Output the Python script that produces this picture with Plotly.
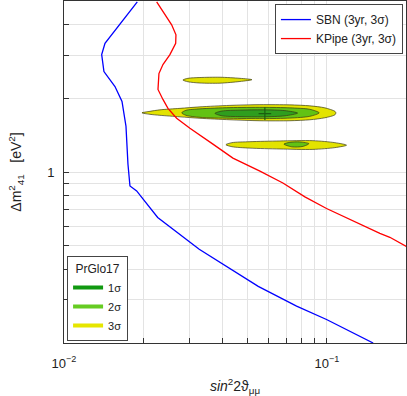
import plotly.graph_objects as go

# SBN (3yr, 3 sigma) sensitivity curve
sbn_x = [0.0190, 0.01432, 0.01391, 0.01419, 0.01563, 0.01662, 0.01721, 0.01751, 0.01782,
         0.0189, 0.0200, 0.02272, 0.03269, 0.05482, 0.0767, 0.0997, 0.150]
sbn_y = [4.96, 3.355, 3.017, 2.574, 2.236, 1.944, 1.538, 1.078, 0.877,
         0.837, 0.774, 0.652, 0.483, 0.341, 0.283, 0.2495, 0.200]

# KPipe (3yr, 3 sigma) sensitivity curve
kp_x = [0.02252, 0.02379, 0.02568, 0.02666, 0.02660, 0.02529, 0.02379, 0.02297, 0.02278,
        0.02379, 0.02486, 0.02682, 0.03013, 0.03686, 0.04391, 0.05563, 0.06802, 0.08248,
        0.0997, 0.1591, 0.1736, 0.201]
kp_y = [4.96, 4.513, 3.996, 3.639, 3.355, 3.017, 2.748, 2.526, 2.175,
        1.980, 1.820, 1.658, 1.509, 1.300, 1.140, 1.009, 0.902, 0.791,
        0.709, 0.561, 0.541, 0.4957]

# PrGlo17 allowed regions (contour outlines)
top3_x = [0.02834, 0.02961, 0.03289, 0.0392, 0.0467, 0.05187, 0.0467, 0.0392, 0.03289, 0.02961, 0.02834]
top3_y = [2.377, 2.415, 2.433, 2.440, 2.415, 2.384, 2.344, 2.307, 2.311, 2.338, 2.377]

main3_x = [0.01980, 0.02123, 0.02317, 0.02761, 0.03289, 0.04278, 0.05563, 0.07233, 0.08617, 0.09826,
           0.1073, 0.1082, 0.1073, 0.09826, 0.08617, 0.07233, 0.05563, 0.04278, 0.03289, 0.02761,
           0.02317, 0.02123, 0.01980]
main3_y = [1.745, 1.770, 1.795, 1.820, 1.846, 1.872, 1.885, 1.881, 1.864, 1.829,
           1.770, 1.745, 1.713, 1.666, 1.635, 1.620, 1.620, 1.635, 1.658, 1.681,
           1.705, 1.721, 1.745]

main2_x = [0.02803, 0.02910, 0.03289, 0.04278, 0.05709, 0.07233, 0.08617, 0.09348, 0.08617, 0.07233,
           0.05709, 0.04278, 0.03289, 0.02910, 0.02803]
main2_y = [1.745, 1.787, 1.812, 1.833, 1.838, 1.829, 1.804, 1.745, 1.689, 1.661,
           1.653, 1.658, 1.673, 1.705, 1.745]

main1_x = [0.03752, 0.03989, 0.04670, 0.05709, 0.06923, 0.07737, 0.06923, 0.05709, 0.04670, 0.03989, 0.03752]
main1_y = [1.737, 1.775, 1.790, 1.795, 1.782, 1.741, 1.697, 1.681, 1.684, 1.697, 1.737]

low3_x = [0.04130, 0.04352, 0.05097, 0.06627, 0.08847, 0.1073, 0.1188, 0.1073, 0.08847, 0.06627,
          0.05097, 0.04352, 0.04130]
low3_y = [1.293, 1.318, 1.330, 1.339, 1.343, 1.318, 1.287, 1.258, 1.237, 1.242,
          1.252, 1.269, 1.293]

low2_x = [0.06863, 0.07233, 0.07894, 0.08542, 0.08104, 0.07361, 0.06863]
low2_y = [1.300, 1.322, 1.327, 1.306, 1.272, 1.267, 1.300]

best_x = [0.0581]
best_y = [1.733]

x_major = [0.01, 0.1]
x_major_text = ["10<sup>\u22122</sup>", "10<sup>\u22121</sup>"]
x_minor = [0.02, 0.03, 0.04, 0.05, 0.06, 0.07, 0.08, 0.09, 0.2]
y_major = [1]
y_major_text = ["1"]
y_minor = [0.3, 0.4, 0.5, 0.6, 0.7, 0.8, 0.9, 2, 3, 4]

C1 = "#2f9e1e"
C2 = "#62c214"
C3 = "#e3e300"
EDGE = "rgba(50,50,20,0.85)"

fig = go.Figure()

def region(x, y, color):
    fig.add_trace(go.Scatter(
        x=x, y=y, mode="lines", fill="toself", fillcolor=color,
        line=dict(color=EDGE, width=0.8, shape="spline", smoothing=0.8),
        showlegend=False, hoverinfo="skip"))

region(top3_x, top3_y, C3)
region(main3_x, main3_y, C3)
region(main2_x, main2_y, C2)
region(main1_x, main1_y, C1)
region(low3_x, low3_y, C3)
region(low2_x, low2_y, C2)

fig.add_trace(go.Scatter(x=best_x, y=best_y, mode="markers",
                         marker=dict(symbol="cross-thin", size=9,
                                     line=dict(color="#1a5e10", width=1.2)),
                         showlegend=False, hoverinfo="skip"))

fig.add_trace(go.Scatter(x=sbn_x, y=sbn_y, mode="lines", name="SBN (3yr, 3\u03c3)",
                         line=dict(color="#0000ff", width=1.3), legend="legend"))
fig.add_trace(go.Scatter(x=kp_x, y=kp_y, mode="lines", name="KPipe (3yr, 3\u03c3)",
                         line=dict(color="#ff0000", width=1.3), legend="legend"))

for lab, col in [("1\u03c3", "#119911"), ("2\u03c3", "#66cc22"), ("3\u03c3", "#e6e600")]:
    fig.add_trace(go.Scatter(x=[None], y=[None], mode="lines", name=lab,
                             line=dict(color=col, width=4), legend="legend2"))

axis_common = dict(type="log", showline=True, mirror=True, linecolor="#333333", linewidth=1,
                   ticks="inside", ticklen=5, tickcolor="#333333",
                   showgrid=True, gridcolor="#e3e3e3", gridwidth=1, zeroline=False,
                   tickfont=dict(size=13, color="#222222"))

fig.update_layout(
    width=407, height=396,
    margin=dict(l=64, r=1, t=1, b=53, autoexpand=False),
    paper_bgcolor="white", plot_bgcolor="white",
    font=dict(family="Liberation Sans, Arial, sans-serif", color="#222222"),
    xaxis=dict(range=[-2, -0.69897], tickmode="array", tickvals=x_major, ticktext=x_major_text,
               ticklabelstandoff=8,
               minor=dict(tickmode="array", tickvals=x_minor, ticks="inside", ticklen=5,
                          tickcolor="#333333", showgrid=True, gridcolor="#e3e3e3"),
               title=dict(text="<i>sin</i><sup>2</sup>2\u03d1<sub>\u03bc\u03bc</sub>",
                          font=dict(size=14), standoff=14),
               **axis_common),
    yaxis=dict(range=[-0.69897, 0.69897], tickmode="array", tickvals=y_major, ticktext=y_major_text,
               ticklabelstandoff=6,
               minor=dict(tickmode="array", tickvals=y_minor, ticks="inside", ticklen=5,
                          tickcolor="#333333", showgrid=True, gridcolor="#e3e3e3"),
               title=dict(text="\u0394m<sup>2</sup><sub>41</sub>   [eV<sup>2</sup>]",
                          font=dict(size=14), standoff=22),
               **axis_common),
    legend=dict(x=0.991, y=0.991, xanchor="right", yanchor="top",
                bgcolor="white", bordercolor="#444444", borderwidth=1,
                font=dict(size=12), tracegroupgap=0, itemwidth=30),
    legend2=dict(x=0.009, y=0.005, xanchor="left", yanchor="bottom",
                 bgcolor="white", bordercolor="#444444", borderwidth=1,
                 font=dict(size=11), title=dict(text="PrGlo17", side="top center", font=dict(size=12)),
                 itemwidth=30),
)

fig.write_html("out.html", config={"displayModeBar": False},
               post_script="document.body.style.margin='0';")
